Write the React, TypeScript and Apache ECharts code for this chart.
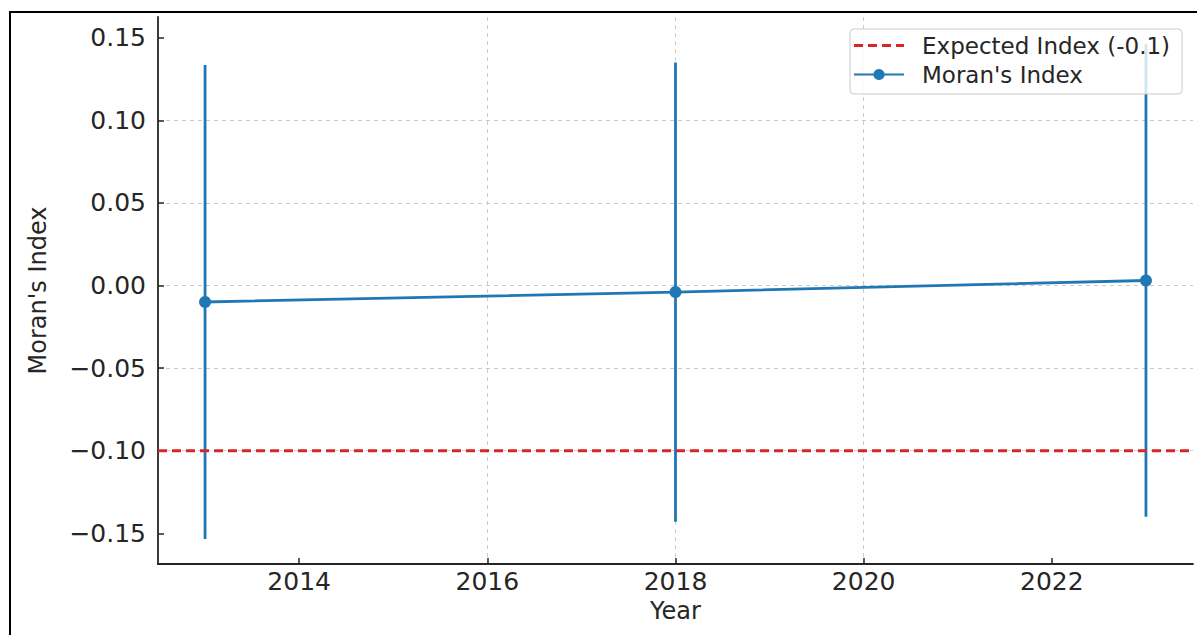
import React, { useEffect, useRef } from "react";
import * as echarts from "echarts";

const years = [2013, 2018, 2023];
const moranValues = [-0.01, -0.004, 0.003];
const errorLow = [-0.1535, -0.143, -0.14];
const errorHigh = [0.1335, 0.135, 0.146];
const expectedIndex = -0.1;
const xTicks = [2014, 2016, 2018, 2020, 2022];
const yTicks = [-0.15, -0.1, -0.05, 0, 0.05, 0.1, 0.15];
const xMin = 2012.5;
const xMax = 2023.5;
const yMin = -0.1686;
const yMax = 0.1625;

const FONT = "DejaVu Sans";
const DARK = "#262626";
const BLUE = "#1f77b4";
const RED = "#d62728";

export default function App() {
  const ref = useRef<HTMLDivElement>(null);
  useEffect(() => {
    if (!ref.current) return;
    const chart = echarts.init(ref.current, null, { renderer: "svg" });
    const gridLine = { show: true, lineStyle: { color: "#cccccc", type: [4, 4] as any, width: 1 } };
    chart.setOption({
      animation: false,
      backgroundColor: "#ffffff",
      grid: { left: 158, top: 17, right: 4, bottom: 71, containLabel: false },
      xAxis: {
        type: "value",
        min: xMin,
        max: xMax,
        name: "Year",
        nameLocation: "middle",
        nameGap: 33,
        nameTextStyle: { fontFamily: FONT, fontSize: 24, color: DARK },
        axisLine: { show: true, onZero: false, lineStyle: { color: DARK, width: 1.8 } },
        axisTick: { show: true, inside: true, length: 6, customValues: xTicks, lineStyle: { color: DARK, width: 1.5 } },
        axisLabel: {
          show: true,
          customValues: xTicks,
          margin: 5,
          fontFamily: FONT,
          fontSize: 25,
          color: DARK,
          formatter: (v: number) => String(v),
        },
        splitLine: { ...gridLine, showMinLine: false, showMaxLine: false },
      },
      yAxis: {
        type: "value",
        min: yMin,
        max: yMax,
        name: "Moran's Index",
        nameLocation: "middle",
        nameGap: 108,
        nameTextStyle: { fontFamily: FONT, fontSize: 24, color: DARK },
        axisLine: { show: true, onZero: false, lineStyle: { color: DARK, width: 1.8 } },
        axisTick: { show: true, inside: true, length: 6, customValues: yTicks, lineStyle: { color: DARK, width: 1.5 } },
        axisLabel: {
          show: true,
          customValues: yTicks,
          margin: 12,
          fontFamily: FONT,
          fontSize: 25,
          color: DARK,
          formatter: (v: number) => (v < -1e-9 ? "\u2212" : "") + Math.abs(v).toFixed(2),
        },
        splitLine: { ...gridLine, showMinLine: false, showMaxLine: false },
      },
      legend: {
        orient: "vertical",
        left: 850,
        top: 29,
        padding: [5, 12, 8, 3],
        itemGap: 6,
        itemWidth: 50,
        itemHeight: 14,
        backgroundColor: "rgba(255,255,255,0.8)",
        borderColor: "#cccccc",
        borderWidth: 1,
        borderRadius: 4,
        textStyle: { fontFamily: FONT, fontSize: 23, color: DARK, padding: [0, 0, 0, 13] },
        data: [
          { name: "Expected Index (-0.1)", icon: "path://M0,0H9V3H0Z M14,0H23V3H14Z M28,0H37V3H28Z M42,0H50V3H42Z" },
          { name: "Moran's Index" },
        ],
      },
      series: [
        {
          name: "Moran's Index errors",
          type: "custom",
          data: years.map((y, i) => [y, errorLow[i], errorHigh[i]]),
          renderItem: (params: any, api: any) => {
            const x = api.value(0);
            const p1 = api.coord([x, api.value(1)]);
            const p2 = api.coord([x, api.value(2)]);
            return {
              type: "line",
              shape: { x1: p1[0], y1: p1[1], x2: p2[0], y2: p2[1] },
              style: { stroke: BLUE, lineWidth: 2.8 },
            };
          },
          z: 2,
        },
        {
          name: "Expected Index (-0.1)",
          type: "line",
          data: [
            [xMin, expectedIndex],
            [xMax, expectedIndex],
          ],
          symbol: "none",
          itemStyle: { color: RED },
          lineStyle: { color: RED, width: 3, type: [9, 5] as any },
          z: 3,
        },
        {
          name: "Moran's Index",
          type: "line",
          data: years.map((y, i) => [y, moranValues[i]]),
          symbol: "circle",
          symbolSize: 12,
          itemStyle: { color: BLUE },
          lineStyle: { color: BLUE, width: 2.8 },
          z: 4,
        },
      ],
      graphic: [
        {
          type: "rect",
          shape: { x: 10, y: 12, width: 1200, height: 700 },
          style: { fill: "none", stroke: "#000000", lineWidth: 2 },
          silent: true,
          z: 100,
        },
      ],
    });
    return () => chart.dispose();
  }, []);
  return (
    <div
      ref={ref}
      style={{ position: "fixed", left: 0, top: 0, width: 1197, height: 635, background: "#fff" }}
    />
  );
}
